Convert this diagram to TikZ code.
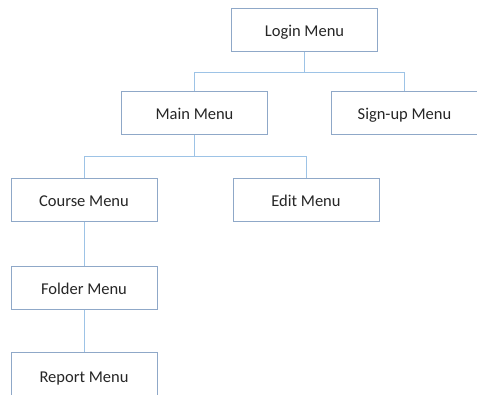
\documentclass[tikz,border=0pt]{standalone}
\usepackage{fontspec}
\setmainfont{Carlito}
\definecolor{boxline}{HTML}{8FA8C8}
\definecolor{wire}{HTML}{9DC3E6}
\begin{document}
\begin{tikzpicture}[x=1pt,y=-1pt,
  menubox/.style={draw=boxline,line width=1pt,fill=white,minimum width=146pt,minimum height=43pt,inner sep=0pt,text height=14pt,text depth=1pt,font=\fontsize{16.5}{19}\selectfont,text=black!85},
  link/.style={draw=wire,line width=1pt}]
\useasboundingbox (0,0) rectangle (477,394);
\clip (0,0) rectangle (477,394);
\node[menubox] (login) at (304.5,30) {Login Menu};
\node[menubox] (main) at (194.5,112.5) {Main Menu};
\node[menubox] (signup) at (404.5,112.5) {Sign-up Menu};
\node[menubox] (course) at (84,199.5) {Course Menu};
\node[menubox] (edit) at (306,199.5) {Edit Menu};
\node[menubox] (folder) at (84,287.5) {Folder Menu};
\node[menubox,minimum height=47pt] (report) at (84,376) {Report Menu};
% tree connectors
\draw[link] (login.south) -- ++(0,20.5) -| (main.north);
\draw[link] (login.south) -- ++(0,20.5) -| (signup.north);
\draw[link] (main.south) -- ++(0,21.5) -| (course.north);
\draw[link] (main.south) -- ++(0,21.5) -| (edit.north);
\draw[link] (course) -- (folder);
\draw[link] (folder) -- (report);
\end{tikzpicture}
\end{document}
